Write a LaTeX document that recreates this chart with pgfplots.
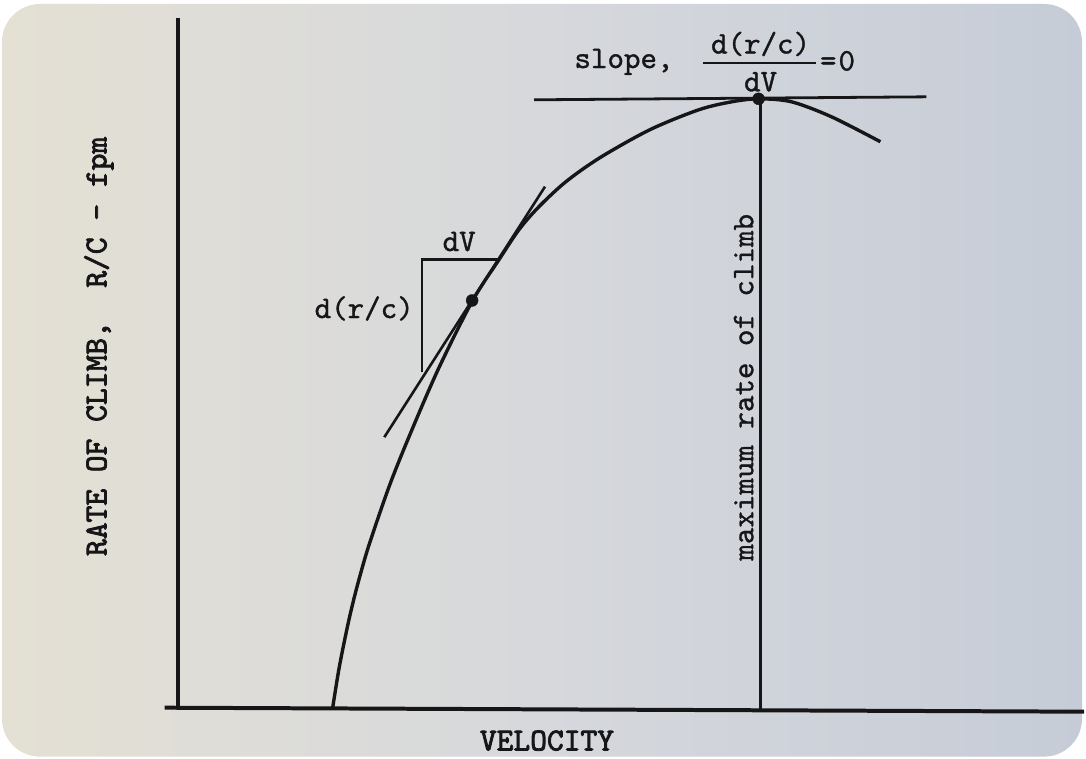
\documentclass[border=0pt]{standalone}
\usepackage{pgfplots}
\pgfplotsset{compat=1.18}
\usepackage{fontspec}
\newfontfamily\twfont{lmmono10-regular.otf}[FakeBold=1]
\newfontfamily\twbfont{lmmono10-regular.otf}[FakeBold=2.5]
\definecolor{ink}{RGB}{22,22,24}
\definecolor{paperL}{RGB}{228,224,212}
\definecolor{paperM}{RGB}{214,216,220}
\definecolor{paperR}{RGB}{198,204,215}
\newcommand{\tw}{\twfont\fontsize{31.5}{33}\selectfont}
\newcommand{\twb}{\twbfont\fontsize{32}{34}\selectfont}
\begin{document}
\begin{tikzpicture}
\begin{axis}[
  width=1086pt, height=760pt, scale only axis,
  xmin=0, xmax=1086, ymin=0, ymax=760, y dir=reverse,
  axis lines=none, clip=false,
]
% paper
\fill[white] (axis cs:0,0) rectangle (axis cs:1086,760);
\shade[rounded corners=38pt, left color=paperL, right color=paperR, middle color=paperM]
  (axis cs:2,4) rectangle (axis cs:1084,758);

% axes
\addplot[ink, line width=4pt] coordinates {(178,18) (178,710)};
\addplot[ink, line width=4pt] coordinates {(165,709) (1086,713)};

% rate of climb versus velocity
\addplot[ink, line width=3.4pt, smooth, tension=0.5] coordinates {
  (333,711) (339.6,670) (347.6,630) (353.8,603) (360.6,577) (370,545)
  (390,487) (410,437) (439,370) (473,302) (500,260) (520,230)
  (540,207) (567,182) (601,158) (651,130) (700,110) (733,102)
  (760,99) (793,102) (833,117) (882,142)
};

% tangent at the marked point
\addplot[ink, line width=2.6pt] coordinates {(385,438) (546,187)};
\addplot[ink, only marks, mark=*, mark size=6pt] coordinates {(473,301)};
% triangle dV, d(r/c)
\addplot[ink, line width=2.4pt] coordinates {(423,373) (423,260) (499,260)};

% zero slope at the peak
\addplot[ink, line width=2.8pt] coordinates {(535,100) (928,97)};
\addplot[ink, line width=2.4pt] coordinates {(762,99) (762,712)};
\addplot[ink, only marks, mark=*, mark size=6pt] coordinates {(760,99)};
\addplot[ink, line width=2pt] coordinates {(704,63) (817,63)};

% labels
\node[ink, font=\tw] at (axis cs:460,242) {dV};
\node[ink, font=\tw, anchor=east] at (axis cs:418,309) {d(r/c)};
\node[ink, font=\tw, anchor=west] at (axis cs:572,62) {slope,};
\node[ink, font=\tw] at (axis cs:762,44) {d(r/c)};
\node[ink, font=\tw] at (axis cs:762,82) {dV};
\node[ink, font=\tw, anchor=west] at (axis cs:818,61) {=\hspace{2pt}0};
\node[ink, font=\tw, rotate=90] at (axis cs:745,388) {maximum rate of climb};
\node[ink, font=\twb, rotate=90] at (axis cs:99,347) {RATE OF CLIMB,\ \ R/C - fpm};
\node[ink, font=\twb] at (axis cs:548,742) {VELOCITY};
\end{axis}
\end{tikzpicture}
\end{document}
